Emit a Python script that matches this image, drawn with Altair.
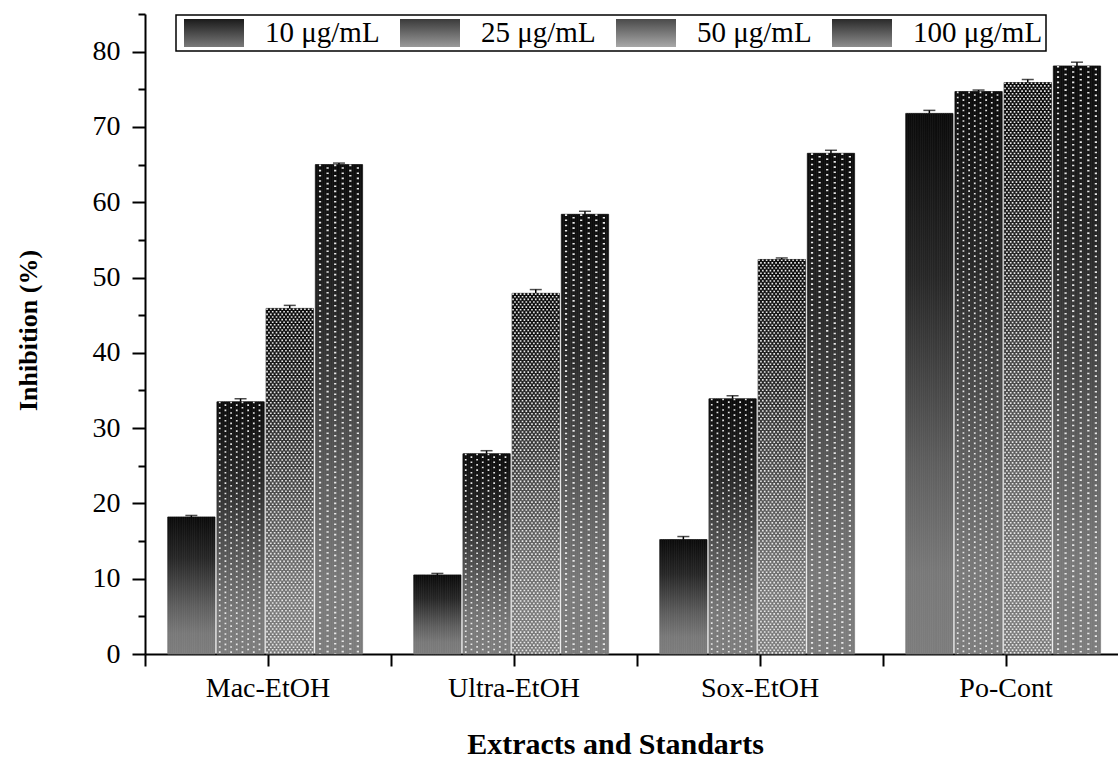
import altair as alt
import pandas as pd

# ---- data ----
cats = ["Mac-EtOH", "Ultra-EtOH", "Sox-EtOH", "Po-Cont"]
concs = ["10 μg/mL", "25 μg/mL", "50 μg/mL", "100 μg/mL"]
v10 = [18.2, 10.5, 15.2, 71.8]
v25 = [33.5, 26.6, 33.9, 74.7]
v50 = [45.9, 47.9, 52.4, 75.9]
v100 = [65.0, 58.4, 66.5, 78.1]
e10 = [0.2, 0.2, 0.4, 0.4]
e25 = [0.4, 0.4, 0.4, 0.2]
e50 = [0.4, 0.5, 0.2, 0.4]
e100 = [0.2, 0.4, 0.4, 0.5]

# each bar is split into narrow slots so the fill patterns can be drawn through the offset scale
NSLOT = 25
slot_domain = [f"padL{i}" for i in range(12)]
for j in range(len(concs)):
    slot_domain += [f"{j}_{k:02d}" for k in range(NSLOT)]
    if j < len(concs) - 1:
        slot_domain.append(f"gap{j}")
slot_domain += [f"padR{i}" for i in range(15)]

rows = []
for j, (conc, vals, errs) in enumerate(zip(concs, [v10, v25, v50, v100], [e10, e25, e50, e100])):
    for c, v, e in zip(cats, vals, errs):
        for k in range(NSLOT):
            rows.append({"cat": c, "conc": conc, "j": j, "k": k,
                         "slot": f"{j}_{k:02d}", "val": v, "err": e})
df = pd.DataFrame(rows)

FONT = "Liberation Serif"

xs = alt.Scale(domain=cats, range=[0, 984], paddingInner=0, paddingOuter=0)
osc = alt.Scale(domain=slot_domain, paddingInner=0, paddingOuter=0)
ys = alt.Scale(domain=[0, 85], nice=False, zero=True)

bar_grad = alt.LinearGradient(
    gradient="linear",
    stops=[
        alt.GradientStop(color="#0a0a0a", offset=0),
        alt.GradientStop(color="#262626", offset=0.3),
        alt.GradientStop(color="#5e5e5e", offset=0.65),
        alt.GradientStop(color="#787878", offset=0.85),
        alt.GradientStop(color="#7c7c7c", offset=1),
    ],
    x1=0, x2=0, y1=0, y2=1,
)


def xenc(axis=None):
    return alt.X("cat:N", scale=xs, axis=axis, title=None)


def oenc():
    return alt.XOffset("slot:N", scale=osc)


base = alt.Chart(df)

main_x_axis = alt.Axis(
    orient="bottom", labelFont=FONT, labelFontSize=28, labelColor="black",
    labelAngle=0, labelPadding=8, tickSize=12, tickWidth=2, tickColor="black",
    domainColor="black", domainWidth=2, grid=False,
    titleFont=FONT, titleFontSize=30, titleFontWeight="bold", titleColor="black",
    titleX=470, titleY=90, titleBaseline="middle", titleAlign="center",
)
main_y_axis = alt.Axis(
    orient="left", values=list(range(0, 90, 10)), labelFont=FONT, labelFontSize=28,
    labelColor="black", labelPadding=12, tickSize=13, tickWidth=2, tickColor="black",
    domainColor="black", domainWidth=2, grid=False,
    titleFont=FONT, titleFontSize=26, titleFontWeight="bold", titleColor="black",
    titleX=-117, titleY=316, titleBaseline="middle", titleAlign="center",
)

bars = base.mark_bar(fill=bar_grad, stroke=bar_grad, strokeWidth=0.7).encode(
    x=alt.X("cat:N", scale=xs, axis=main_x_axis, title="Extracts and Standarts"),
    xOffset=oenc(),
    y=alt.Y("val:Q", scale=ys, axis=main_y_axis, title="Inhibition (%)"),
)


def pattern_layer(conc_idx, slot_expr, phase_expr, dash_range, width):
    return (
        base.transform_filter(f"datum.j == {conc_idx} && ({slot_expr})")
        .transform_calculate(phase=phase_expr)
        .mark_rule(color="#e8e8e8", strokeWidth=width, strokeCap="butt")
        .encode(
            x=xenc(), xOffset=oenc(),
            y=alt.Y("val:Q", scale=ys, axis=None), y2=alt.datum(0),
            strokeDash=alt.StrokeDash(
                "phase:O",
                scale=alt.Scale(domain=list(range(len(dash_range))), range=dash_range),
                legend=None,
            ),
        )
    )


# 25 µg/mL: staggered dots
dots = pattern_layer(1, "datum.k % 3 == 1", "floor(datum.k / 3) % 2",
                     [[1.6, 3.6], [0, 2.6, 1.6, 1.0]], 1.7)
# 50 µg/mL: zig-zag
zig = pattern_layer(2, "true", "datum.k % 4",
                    [[2.5, 4.5], [0, 1.75, 2.5, 2.75], [0, 3.5, 2.5, 1.0], [0, 1.75, 2.5, 2.75]],
                    1.6)
# 100 µg/mL: sparse chevron marks
chev = pattern_layer(3, "datum.k % 4 == 2", "floor(datum.k / 4) % 2",
                     [[2.5, 7.5], [0, 5, 2.5, 2.5]], 2.2)

minor_x_axis = alt.Axis(orient="bottom", bandPosition=0, labels=False, domain=False,
                        tickSize=12, tickWidth=2, tickColor="black", grid=False, title=None)
minor_y_axis = alt.Axis(orient="left", values=[5, 15, 25, 35, 45, 55, 65, 75, 85],
                        labels=False, domain=False, tickSize=7, tickWidth=2,
                        tickColor="black", grid=False, title=None)

centre = base.transform_filter(f"datum.k == {NSLOT // 2}").transform_calculate(
    hi="datum.val + datum.err")

err_rule = centre.mark_rule(color="black", strokeWidth=1.5).encode(
    x=alt.X("cat:N", scale=xs, axis=minor_x_axis, title=None),
    xOffset=oenc(),
    y=alt.Y("val:Q", scale=ys, axis=minor_y_axis, title=None),
    y2="hi:Q",
)
err_cap = centre.mark_tick(color="black", thickness=1.5, size=12).encode(
    x=xenc(), xOffset=oenc(),
    y=alt.Y("hi:Q", scale=ys, axis=None),
)


def grad_expr(top, bottom):
    return ("{gradient:'linear',x1:0,y1:0,x2:0,y2:1,stops:[{offset:0,color:'%s'},"
            "{offset:1,color:'%s'}]}" % (top, bottom))


legend_range = [
    {"expr": grad_expr("#1a1a1a", "#7a7a7a")},
    {"expr": grad_expr("#3a3a3a", "#9a9a9a")},
    {"expr": grad_expr("#4a4a4a", "#a8a8a8")},
    {"expr": grad_expr("#2a2a2a", "#8e8e8e")},
]

legend_layer = centre.transform_calculate(z="0").mark_bar().encode(
    x=xenc(), xOffset=oenc(),
    y=alt.Y("z:Q", scale=ys, axis=None),
    color=alt.Color(
        "conc:N",
        scale=alt.Scale(domain=concs, range=legend_range),
        legend=alt.Legend(
            orient="none", legendX=31, legendY=1, direction="horizontal", title=None,
            symbolType="M-1,-0.47H1V0.47H-1Z", symbolSize=3600, symbolStrokeWidth=0,
            symbolOffset=5, clipHeight=30,
            labelFont=FONT, labelFontSize=29, labelColor="black", labelOffset=21,
            columnPadding=15, padding=3, strokeColor="black",
        ),
    ),
)

chart = alt.layer(
    bars, dots, zig, chev, err_rule, err_cap, legend_layer
).resolve_axis(
    x="independent", y="independent"
).properties(
    width=973, height=640,
    autosize=alt.AutoSizeParams(type="none"),
    padding={"left": 145, "top": 14, "right": 0, "bottom": 105},
).configure_view(stroke=None).configure_legend(strokeWidth=1.5)

chart.save("out.html", embed_options={"renderer": "svg", "actions": False})
